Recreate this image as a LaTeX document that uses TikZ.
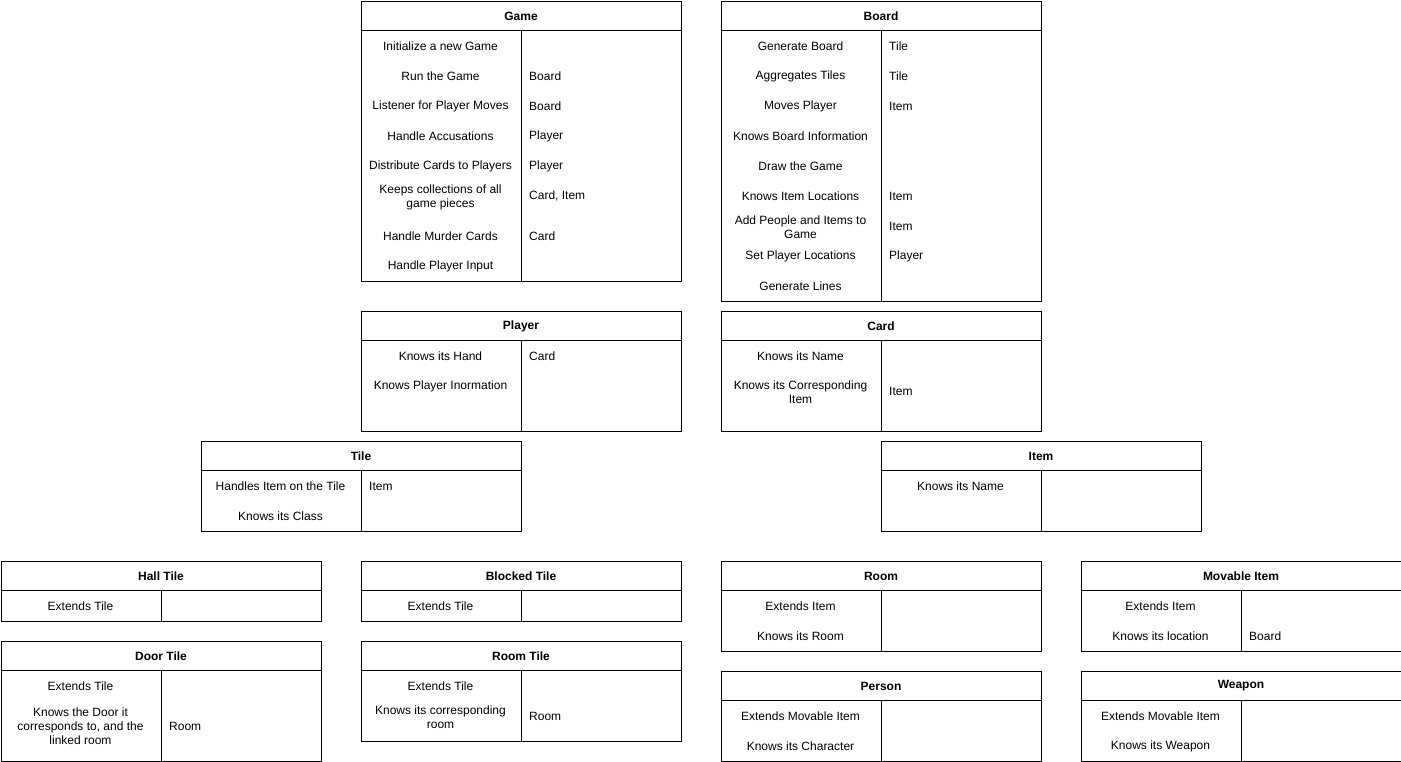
\documentclass[tikz,border=0pt]{standalone}
\usepackage{fontspec}
\setmainfont{Liberation Sans}
\usetikzlibrary{calc}
\tikzset{
  x=1pt, y=-1pt,
  crcframe/.style={draw=black, line width=1pt, inner sep=0pt, minimum width=320pt, anchor=north west, fill=white},
  crcline/.style={draw=black, line width=1pt},
  crctitle/.style={font=\fontsize{12}{14}\selectfont\bfseries, inner sep=0pt, anchor=center},
  resp/.style={font=\fontsize{12}{14}\selectfont, inner sep=0pt, align=center, anchor=center},
  collab/.style={font=\fontsize{12}{14}\selectfont, inner sep=0pt, anchor=west},
}
% name, x, y, height, title
\newcommand\crcbox[5]{%
  \node[crcframe, minimum height=#4pt] (#1) at (#2,#3) {};
  \node[crctitle] (#1-title) at ([yshift=-15.5pt]#1.north) {#5};
  \draw[crcline] ([yshift=-30pt]#1.north west) -- ([yshift=-30pt]#1.north east);
  \draw[crcline] ([yshift=-30pt]#1.north) -- (#1.south);
}
% name, box, y, text
\newcommand\crcleft[4]{%
  \coordinate (#1-y) at (0,#3+0.7);
  \node[resp] (#1) at ([xshift=80pt]#1-y -| #2.north west) {#4};}
\newcommand\crcright[4]{%
  \coordinate (#1-y) at (0,#3+0.7);
  \node[collab] (#1) at ([xshift=8pt]#1-y -| #2.north) {#4};}
\begin{document}
\begin{tikzpicture}
\useasboundingbox (0,0) rectangle (1401,761);
\begin{scope}[xshift=0.5pt, yshift=-0.5pt]
% Game
\crcbox{game}{360}{0}{280}{Game}
\crcleft{g1}{game}{45}{Initialize a new Game}
\crcleft{g2}{game}{75}{Run the Game}
\crcright{g2r}{game}{75}{Board}
\crcleft{g3}{game}{105}{Listener for Player Moves}
\crcright{g3r}{game}{105}{Board}
\crcleft{g4}{game}{135}{Handle Accusations}
\crcright{g4r}{game}{135}{Player}
\crcleft{g5}{game}{165}{Distribute Cards to Players}
\crcright{g5r}{game}{165}{Player}
\crcleft{g6}{game}{196}{Keeps collections of all\\game pieces}
\crcright{g6r}{game}{195}{Card, Item}
\crcleft{g7}{game}{235}{Handle Murder Cards}
\crcright{g7r}{game}{235}{Card}
\crcleft{g8}{game}{265}{Handle Player Input}
% Board
\crcbox{board}{720}{0}{300}{Board}
\crcleft{b1}{board}{45}{Generate Board}
\crcright{b1r}{board}{45}{Tile}
\crcleft{b2}{board}{75}{Aggregates Tiles}
\crcright{b2r}{board}{75}{Tile}
\crcleft{b3}{board}{105}{Moves Player}
\crcright{b3r}{board}{105}{Item}
\crcleft{b4}{board}{135}{Knows Board Information}
\crcleft{b5}{board}{165}{Draw the Game}
\crcleft{b6}{board}{195}{Knows Item Locations}
\crcright{b6r}{board}{195}{Item}
\crcleft{b7}{board}{226}{Add People and Items to\\Game}
\crcright{b7r}{board}{225}{Item}
\crcleft{b8}{board}{255}{Set Player Locations}
\crcright{b8r}{board}{255}{Player}
\crcleft{b9}{board}{285}{Generate Lines}
% Player
\crcbox{player}{360}{310}{120}{Player}
\crcleft{p1}{player}{355}{Knows its Hand}
\crcright{p1r}{player}{355}{Card}
\crcleft{p2}{player}{385}{Knows Player Inormation}
% Card
\crcbox{card}{720}{310}{120}{Card}
\crcleft{c1}{card}{355}{Knows its Name}
\crcleft{c2}{card}{391}{Knows its Corresponding\\Item}
\crcright{c2r}{card}{390}{Item}
% Tile
\crcbox{tile}{200}{440}{90}{Tile}
\crcleft{t1}{tile}{485}{Handles Item on the Tile}
\crcright{t1r}{tile}{485}{Item}
\crcleft{t2}{tile}{515}{Knows its Class}
% Item
\crcbox{item}{880}{440}{90}{Item}
\crcleft{i1}{item}{485}{Knows its Name}
% Hall Tile
\crcbox{hall}{0}{560}{60}{Hall Tile}
\crcleft{h1}{hall}{605}{Extends Tile}
% Blocked Tile
\crcbox{blocked}{360}{560}{60}{Blocked Tile}
\crcleft{bl1}{blocked}{605}{Extends Tile}
% Room
\crcbox{room}{720}{560}{90}{Room}
\crcleft{r1}{room}{605}{Extends Item}
\crcleft{r2}{room}{635}{Knows its Room}
% Movable Item
\crcbox{movable}{1080}{560}{90}{Movable Item}
\crcleft{m1}{movable}{605}{Extends Item}
\crcleft{m2}{movable}{635}{Knows its location}
\crcright{m2r}{movable}{635}{Board}
% Door Tile
\crcbox{door}{0}{640}{120}{Door Tile}
\crcleft{d1}{door}{685}{Extends Tile}
\crcleft{d2}{door}{725}{Knows the Door it\\corresponds to, and the\\linked room}
\crcright{d2r}{door}{725}{Room}
% Room Tile
\crcbox{roomtile}{360}{640}{100}{Room Tile}
\crcleft{rt1}{roomtile}{685}{Extends Tile}
\crcleft{rt2}{roomtile}{716}{Knows its corresponding\\room}
\crcright{rt2r}{roomtile}{715}{Room}
% Person
\crcbox{person}{720}{670}{90}{Person}
\crcleft{pe1}{person}{715}{Extends Movable Item}
\crcleft{pe2}{person}{745}{Knows its Character}
% Weapon
\crcbox{weapon}{1080}{670}{90}{Weapon}
\crcleft{w1}{weapon}{715}{Extends Movable Item}
\crcleft{w2}{weapon}{745}{Knows its Weapon}
\end{scope}
\end{tikzpicture}
\end{document}
